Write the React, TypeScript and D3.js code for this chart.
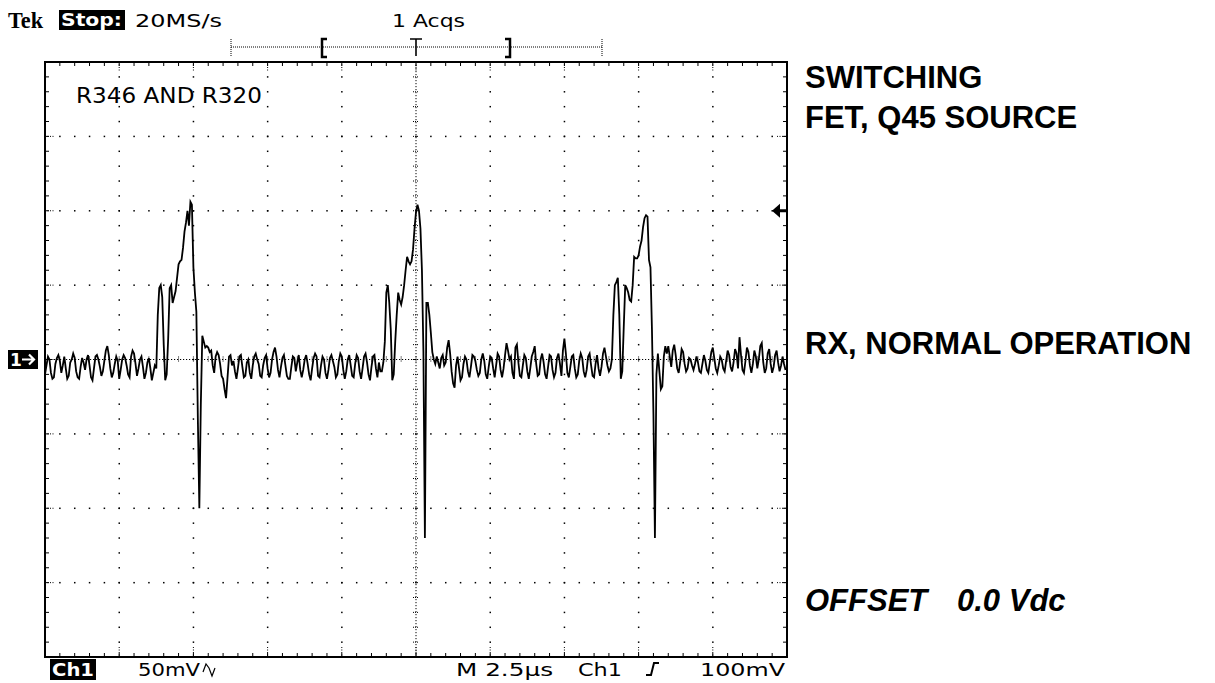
import * as d3 from "d3";

// Tek TDS screen capture: Ch1 50mV/div, 2.5µs/div, 20MS/s, 500 samples

const W = 1215;
const H = 683;
const LEFT = 45;
const RIGHT = 787;
const TOP = 62;
const BOTTOM = 657;

const SAMPLE_US = 0.05;
const TIME_SPAN_US = 25;
const VOLT_SPAN_MV = 200;
const TRIGGER_LEVEL_MV = 100;

// Ch1 samples in mV
const baselineA = [
  -10, -4, 2, 0, -9, -13, -12, -3, 1, 3,
  -1, -9, -4, 2, -6, -13, -11, -2, 0, 4,
  1, -8, -12, -13, -5, 1, -2, -7, 0, 3,
  -4, -12, -14, -6, 2, 3, 0, -5, -11, -8,
  -1, 6, 9, 3, -6, -12, -9, -3, 2, -1,
  -13, -7, 0, 3, 1, -4, -10, -12, 2, 6,
  4, -3, -11, -6, 0, 2, -5, -13, -9, -2,
  1, -6, -14, -9, -4,
];
const pulse1 = [
  -6, 30, 48, 50, 42, 10, -14, -10, 14, 48,
  50, 38, 42, 46, 55, 64, 66, 67, 75, 86,
  92, 100, 90, 106, 104, 62, 45, 32, -40, -100,
  -30, 16, 12, 8,
];
const baselineB = [
  9, 8, 5, 6, -4, -9, 2, 5, 3, -3,
  -11, -13, -20, -26, -12, 2, 3, -4, -1, -8,
  -13, -6, 2, 3, -5, -12, -11, -2, 0, -9,
  -13, -4, 2, 4, 0, -3, -11, -12, -4, 1,
  3, -6, -12, -9, 0, 5, 8, 2, -7, -12,
  -5, 1, 3, -4, -11, -13, -13, -5, 2, 1,
  -8, -2, 3, -7, -12, -7, 0, 3, -3, -10,
  -14, -6, 1, 4, 2, -11, -12, -4, 2, 0,
  -9, -13, -7, 1, 3, -1, -5, -12, -10, -1,
  4, 2, -7, -13, -8, 0, 3, -4, -11, -12,
  -3, 3, 1, -8, -13, -6, 2, 4, -2, -10,
  -14, -5, 2, 3, -6, -12, -2, -8,
];
const pulse2 = [
  -8, -2, 12, 45, 50, 38, 20, -14, -10, 12,
  30, 45, 40, 37, 42, 50, 60, 69, 66, 64,
  66, 74, 88, 99, 104, 100, 88, 60, 5, -120,
  38, 38, 30, 18, 5, 0,
];
const baselineC = [
  -3, 2, -2, -6, 1, 3, -4, -2, 8, 13,
  4, -8, -16, -19, -4, 2, -6, -14, -12, -3,
  2, 0, -8, -12, -5, 3, 2, -1, -7, -11,
  -9, 0, 4, -1, -10, -13, -5, 2, 1, -6,
  -12, -4, 4, 2, -7, -12, -6, 3, 11, 6,
  0, 2, -9, -13, 8, 10, -2, -11, -12, -4,
  3, 1, -8, -13, -6, 2, 5, 9, -3, -11,
  -10, 0, 4, -2, -10, -13, -5, 3, 2, -7,
  -12, -9, 1, 4, -3, -11, 6, 14, 4, -9,
  -12, -5, 2, 3, -6, -12, -10, -1, 4, 1,
  -8, -12, -7, 2, 4, -4, -11, -12, -3, 3,
  -6, -11, -5, 4, 8, 2, -4, -8,
];
const pulse3 = [
  -6, 0, 30, 50, 52, 55, 30, -13, -8, 22,
  50, 48, 45, 40, 39, 50, 69, 68, 68, 70,
  76, 80, 89, 95, 97, 96, 67, 62, 20, -37,
  -120, -10, 4, -8, -20, -18, 2, 9, 4,
];
const baselineD = [
  9, 2, -5, 6, 10, 3, -6, -9, -2, 7,
  5, -3, -8, -6, 1, 0, -4, -7, -3, 2,
  -2, -8, -9, -3, 3, -1, -7, -9, -2, 5,
  8, 1, -6, -9, -4, 2, 0, -6, -8, -1,
  6, 3, -5, -8, -2, 7, 4, -6, 15, 3,
  -7, -9, -1, 8, 5, -4, -9, -3, 6, 2,
  -6, 0, 9, 11, -2, -9, -6, 4, 7, -3,
  -9, -5, 3, 6, -2, -8, -4, 2, -3, -7,
];

const ch1 = [
  ...baselineA, ...pulse1, ...baselineB, ...pulse2,
  ...baselineC, ...pulse3, ...baselineD,
];

const headerTexts = ["20MS/s", "1 Acqs"];
const statusTexts = ["50mV", "M 2.5µs", "Ch1", "100mV"];
const sideNotes = ["SWITCHING", "FET, Q45 SOURCE", "RX, NORMAL OPERATION"];

const SCOPE_FONT = "'DejaVu Sans', Verdana, sans-serif";
const NOTE_FONT = "'Liberation Sans', Arial, Helvetica, sans-serif";

export default function App() {
  const x = d3.scaleLinear().domain([0, TIME_SPAN_US]).range([LEFT, RIGHT]);
  const y = d3.scaleLinear().domain([-VOLT_SPAN_MV, VOLT_SPAN_MV]).range([BOTTOM, TOP]);

  const majorT = d3.range(0, TIME_SPAN_US + 1e-6, 2.5);
  const minorT = d3.range(0, TIME_SPAN_US + 1e-6, 0.5);
  const majorV = d3.range(-VOLT_SPAN_MV, VOLT_SPAN_MV + 1, 50);
  const minorV = d3.range(-VOLT_SPAN_MV, VOLT_SPAN_MV + 1, 10);

  const midT = TIME_SPAN_US / 2;
  const innerT = majorT.filter((t) => t > 0 && t < TIME_SPAN_US && Math.abs(t - midT) > 1e-6);
  const innerV = majorV.filter((v) => Math.abs(v) < VOLT_SPAN_MV && v !== 0);

  const line = d3
    .line<number>()
    .x((_, i) => x(i * SAMPLE_US))
    .y((d) => y(d));

  const dots: JSX.Element[] = [];
  // 格子の点線 (縦)
  innerT.forEach((t) => {
    minorV.slice(1, -1).forEach((v) => {
      dots.push(<rect key={`vt${t}_${v}`} x={x(t) - 0.7} y={y(v) - 0.7} width={1.5} height={1.5} fill="#000" />);
    });
  });
  // 格子の点線 (横)
  innerV.forEach((v) => {
    minorT.slice(1, -1).forEach((t) => {
      dots.push(<rect key={`hv${v}_${t}`} x={x(t) - 0.7} y={y(v) - 0.7} width={1.5} height={1.5} fill="#000" />);
    });
  });

  const ticks: JSX.Element[] = [];
  // center axes ticks + border ticks
  minorT.slice(1, -1).forEach((t) => {
    const cx = x(t);
    ticks.push(<line key={`ct${t}`} x1={cx} x2={cx} y1={y(0) - 3} y2={y(0) + 3} stroke="#000" strokeWidth={1} strokeDasharray="1 1" />);
    ticks.push(<line key={`tt${t}`} x1={cx} x2={cx} y1={TOP} y2={TOP + 4} stroke="#000" strokeWidth={1} />);
    ticks.push(<line key={`bt${t}`} x1={cx} x2={cx} y1={BOTTOM - 4} y2={BOTTOM} stroke="#000" strokeWidth={1} />);
  });
  minorV.slice(1, -1).forEach((v) => {
    const cy = y(v);
    ticks.push(<line key={`cv${v}`} x1={x(midT) - 3} x2={x(midT) + 3} y1={cy} y2={cy} stroke="#000" strokeWidth={1} strokeDasharray="1 1" />);
    ticks.push(<line key={`lt${v}`} x1={LEFT} x2={LEFT + 4} y1={cy} y2={cy} stroke="#000" strokeWidth={1} />);
    ticks.push(<line key={`rt${v}`} x1={RIGHT - 4} x2={RIGHT} y1={cy} y2={cy} stroke="#000" strokeWidth={1} />);
  });
  // longer dotted stubs at major divisions on the frame
  majorT.slice(1, -1).forEach((t) => {
    ticks.push(<line key={`tm${t}`} x1={x(t)} x2={x(t)} y1={TOP} y2={TOP + 10} stroke="#000" strokeDasharray="1 1.5" />);
    ticks.push(<line key={`bm${t}`} x1={x(t)} x2={x(t)} y1={BOTTOM - 10} y2={BOTTOM} stroke="#000" strokeDasharray="1 1.5" />);
  });
  majorV.slice(1, -1).forEach((v) => {
    ticks.push(<line key={`lm${v}`} x1={LEFT} x2={LEFT + 10} y1={y(v)} y2={y(v)} stroke="#000" strokeDasharray="1 1.5" />);
    ticks.push(<line key={`rm${v}`} x1={RIGHT - 10} x2={RIGHT} y1={y(v)} y2={y(v)} stroke="#000" strokeDasharray="1 1.5" />);
  });

  const trigY = y(TRIGGER_LEVEL_MV);
  const zeroY = y(0);
  const barY = 47;

  return (
    <svg
      width={W}
      height={H}
      viewBox={`0 0 ${W} ${H}`}
      style={{ position: "absolute", left: 0, top: 0, background: "#fff" }}
    >
      <rect x={0} y={0} width={W} height={H} fill="#fff" />

      {/* header */}
      <text x={8} y={28} fontFamily="'Liberation Serif', serif" fontWeight={700} fontSize={24} textLength={35} lengthAdjust="spacingAndGlyphs">
        Tek
      </text>
      <rect x={59} y={10} width={66} height={20} fill="#000" />
      <text x={61} y={26} fill="#fff" fontFamily={SCOPE_FONT} fontWeight={700} fontSize={17} textLength={61} lengthAdjust="spacingAndGlyphs">
        Stop:
      </text>
      <text x={135} y={27} fontFamily={SCOPE_FONT} fontSize={18} textLength={87} lengthAdjust="spacingAndGlyphs">
        {headerTexts[0]}
      </text>
      <text x={392} y={27} fontFamily={SCOPE_FONT} fontSize={18} textLength={73} lengthAdjust="spacingAndGlyphs">
        {headerTexts[1]}
      </text>

      {/* record / trigger position bar */}
      <line x1={231} x2={602} y1={barY} y2={barY} stroke="#000" strokeWidth={1} strokeDasharray="1 1" />
      <line x1={231} x2={231} y1={39} y2={56} stroke="#000" strokeWidth={1} strokeDasharray="1 1" />
      <line x1={602} x2={602} y1={39} y2={56} stroke="#000" strokeWidth={1} strokeDasharray="1 1" />
      <path d="M327,39 L322,39 L322,57 L327,57" fill="none" stroke="#000" strokeWidth={2.5} />
      <path d="M505,39 L510,39 L510,57 L505,57" fill="none" stroke="#000" strokeWidth={2.5} />
      <path d={`M${x(midT) - 6},39 L${x(midT) + 6},39 M${x(midT)},39 L${x(midT)},56`} fill="none" stroke="#000" strokeWidth={1.6} />

      {/* graticule */}
      {dots}
      <line x1={LEFT} x2={RIGHT} y1={zeroY} y2={zeroY} stroke="#000" strokeWidth={1} strokeDasharray="1.2 1.8" />
      <line x1={x(midT)} x2={x(midT)} y1={TOP} y2={BOTTOM} stroke="#000" strokeWidth={1} strokeDasharray="1.2 1.8" />
      {ticks}
      <rect x={LEFT} y={TOP} width={RIGHT - LEFT} height={BOTTOM - TOP} fill="none" stroke="#000" strokeWidth={2} />

      <text x={76} y={103} fontFamily={SCOPE_FONT} fontSize={21} textLength={186} lengthAdjust="spacingAndGlyphs">
        R346 AND R320
      </text>

      {/* waveform */}
      <path d={line(ch1) ?? ""} fill="none" stroke="#000" strokeWidth={1.8} strokeLinejoin="miter" />

      {/* ground marker 1→ */}
      <rect x={8} y={350} width={30} height={19} fill="#000" />
      <text x={10} y={366} fill="#fff" fontFamily={SCOPE_FONT} fontWeight={700} fontSize={17}>
        1
      </text>
      <path d={`M22,${zeroY} L34,${zeroY} M29,${zeroY - 5} L34,${zeroY} L29,${zeroY + 5}`} fill="none" stroke="#fff" strokeWidth={2.2} />

      {/* trigger level arrow */}
      <path d={`M772,${trigY} L780,${trigY - 7} L780,${trigY + 7} Z`} fill="#000" />
      <line x1={779} x2={787} y1={trigY} y2={trigY} stroke="#000" strokeWidth={3} />

      {/* status line */}
      <rect x={50} y={659} width={46} height={21} fill="#000" />
      <text x={52} y={676} fill="#fff" fontFamily={SCOPE_FONT} fontWeight={700} fontSize={17} textLength={42} lengthAdjust="spacingAndGlyphs">
        Ch1
      </text>
      <text x={138} y={676} fontFamily={SCOPE_FONT} fontSize={17} textLength={62} lengthAdjust="spacingAndGlyphs">
        {statusTexts[0]}
      </text>
      <path d="M203,672 L206,664 L209,668 L212,676 L215,668" fill="none" stroke="#000" strokeWidth={1.2} />
      <text x={456} y={676} fontFamily={SCOPE_FONT} fontSize={17} textLength={97} lengthAdjust="spacingAndGlyphs">
        {statusTexts[1]}
      </text>
      <text x={578} y={676} fontFamily={SCOPE_FONT} fontSize={17} textLength={44} lengthAdjust="spacingAndGlyphs">
        {statusTexts[2]}
      </text>
      <path d="M646,675 L651,675 L654,663 L659,663" fill="none" stroke="#000" strokeWidth={2} />
      <text x={700} y={676} fontFamily={SCOPE_FONT} fontSize={17} textLength={85} lengthAdjust="spacingAndGlyphs">
        {statusTexts[3]}
      </text>

      {/* side notes */}
      <g fontFamily={NOTE_FONT} fontWeight={700} fontSize={31} fill="#000">
        <text x={805} y={88}>{sideNotes[0]}</text>
        <text x={805} y={128}>{sideNotes[1]}</text>
        <text x={805} y={354}>{sideNotes[2]}</text>
        <text x={805} y={611} fontStyle="italic">OFFSET</text>
        <text x={957} y={611} fontStyle="italic">0.0 Vdc</text>
      </g>
    </svg>
  );
}
